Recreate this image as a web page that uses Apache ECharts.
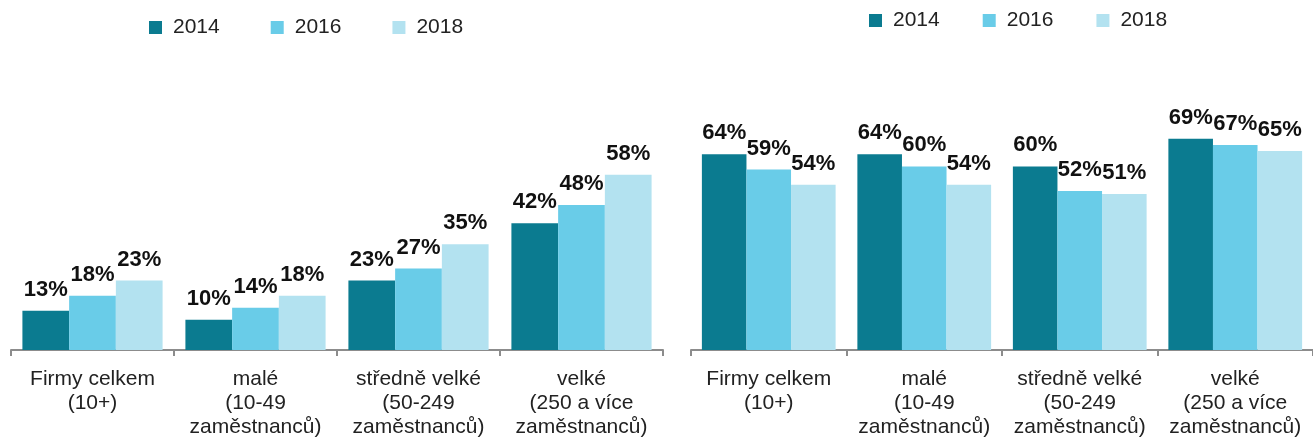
<!DOCTYPE html>
<html>
<head>
<meta charset="utf-8">
<script src="https://cdn.jsdelivr.net/npm/echarts@6/dist/echarts.min.js"></script>
<style>
  html, body { margin: 0; padding: 0; background: #fff; }
  #chart { width: 1313px; height: 439px; }
</style>
</head>
<body>
<div id="chart"></div>
<script>
// data
var categories = ['Firmy celkem\n(10+)', 'malé\n(10-49\nzaměstnanců)', 'středně velké\n(50-249\nzaměstnanců)', 'velké\n(250 a více\nzaměstnanců)']
var years = ['2014', '2016', '2018']
var left2014 = [13, 10, 23, 42]
var left2016 = [18, 14, 27, 48]
var left2018 = [23, 18, 35, 58]
var right2014 = [64, 64, 60, 69]
var right2016 = [59, 60, 52, 67]
var right2018 = [54, 54, 51, 65]

var colors = ['#0b7b90', '#69cce8', '#b3e2f0']
var font = "'Liberation Sans', Arial, sans-serif"

var chart = echarts.init(document.getElementById('chart'))

function bar(name, data, idx, color) {
	return {
		name: name,
		type: 'bar',
		xAxisIndex: idx,
		yAxisIndex: idx,
		data: data,
		barGap: 0,
		barCategoryGap: '14%',
		itemStyle: { color: color },
		label: {
			show: true,
			position: 'top',
			distance: 10,
			formatter: '{c}%',
			color: '#111',
			fontWeight: 'bold',
			fontSize: 22,
			fontFamily: font
		}
	}
}

function xAxis(idx) {
	return {
		type: 'category',
		gridIndex: idx,
		data: categories,
		axisLine: { lineStyle: { color: '#8c8c8c', width: 2 } },
		axisTick: { show: true, length: 6, lineStyle: { color: '#8c8c8c', width: 2 } },
		axisLabel: {
			interval: 0,
			margin: 17,
			color: '#222',
			fontSize: 21,
			lineHeight: 24,
			fontFamily: font
		}
	}
}

function yAxis(idx) {
	return { type: 'value', gridIndex: idx, min: 0, max: 100, show: false, splitLine: { show: false } }
}

function legend(left, top, gap) {
	return {
		left: left,
		top: top,
		itemWidth: 13,
		itemHeight: 13,
		itemGap: gap,
		icon: 'rect',
		data: years,
		textStyle: { color: '#222', fontSize: 21, fontFamily: font, padding: [0, 0, 0, 6] }
	}
}

var option = {
	animation: false,
	color: colors,
	legend: [legend(144, 12, 51), legend(864, 5, 43)],
	grid: [
		{ left: 11, width: 652, top: 48, bottom: 89 },
		{ left: 691, width: 628, top: 44, bottom: 87 }
	],
	xAxis: [xAxis(0), xAxis(1)],
	yAxis: [yAxis(0), yAxis(1)],
	series: [
		bar('2014', left2014, 0, colors[0]),
		bar('2016', left2016, 0, colors[1]),
		bar('2018', left2018, 0, colors[2]),
		bar('2014', right2014, 1, colors[0]),
		bar('2016', right2016, 1, colors[1]),
		bar('2018', right2018, 1, colors[2])
	]
}
chart.setOption(option)
</script>
</body>
</html>
